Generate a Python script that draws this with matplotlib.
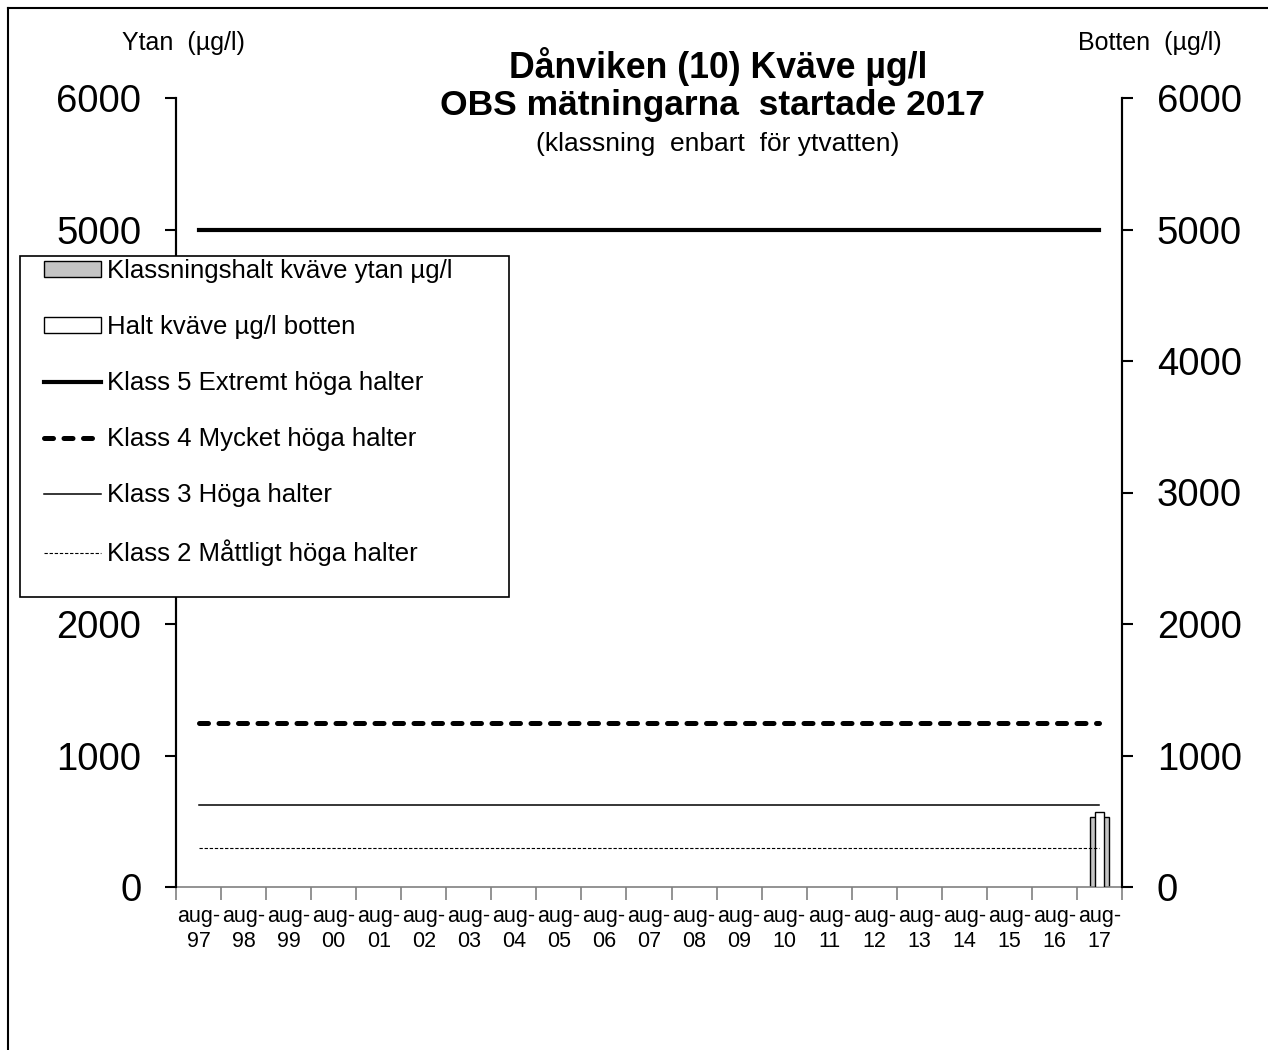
import numpy as np
import matplotlib
matplotlib.use("Agg")
import matplotlib.pyplot as plt
from matplotlib.patches import Rectangle, Patch
from matplotlib.lines import Line2D

plt.rcParams['font.family'] = ['Liberation Sans', 'DejaVu Sans']

# ---------------- data ----------------
years = ["97", "98", "99", "00", "01", "02", "03", "04", "05", "06", "07",
         "08", "09", "10", "11", "12", "13", "14", "15", "16", "17"]
categories = ["aug-\n" + y for y in years]
ytan = [np.nan, np.nan, np.nan, np.nan, np.nan, np.nan, np.nan, np.nan, np.nan, np.nan, np.nan,
        np.nan, np.nan, np.nan, np.nan, np.nan, np.nan, np.nan, np.nan, np.nan, 535]
botten = [np.nan, np.nan, np.nan, np.nan, np.nan, np.nan, np.nan, np.nan, np.nan, np.nan, np.nan,
          np.nan, np.nan, np.nan, np.nan, np.nan, np.nan, np.nan, np.nan, np.nan, 570]
class_names = ["Klass 5 Extremt höga halter", "Klass 4 Mycket höga halter",
               "Klass 3 Höga halter", "Klass 2 Måttligt höga halter"]
class_values = [5000, 1250, 625, 300]
yticks = [0, 1000, 2000, 3000, 4000, 5000, 6000]
# left labels 3000/4000 are hidden behind the legend box in the original
left_labels = ["0", "1000", "2000", "", "", "5000", "6000"]
right_labels = ["0", "1000", "2000", "3000", "4000", "5000", "6000"]

W, H = 1268, 1050
fig = plt.figure(figsize=(W / 100, H / 100), dpi=100)

def fx(px):
    return px / W

def fy(py):
    return 1 - py / H

ax = fig.add_axes([fx(176), fy(887), fx(1122) - fx(176), fy(98) - fy(887)])
x = np.arange(len(categories))

ax.bar(x, ytan, width=0.42, color="#c4c4c4", edgecolor="black", linewidth=1.0, zorder=2)
ax.bar(x, botten, width=0.22, color="white", edgecolor="black", linewidth=1.0, zorder=3)

styles = [
    dict(color="black", lw=3.0, ls="-"),
    dict(color="black", lw=3.6, ls=(0, (1.8, 2.1)), dash_capstyle="round"),
    dict(color="black", lw=1.1, ls="-"),
    dict(color="black", lw=0.8, ls=(0, (3.0, 1.6))),
]
for v, st in zip(class_values, styles):
    ax.plot(x, [v] * len(x), zorder=4, **st)

ax.set_xlim(-0.5, len(categories) - 0.5)
ax.set_ylim(0, 6000)

ax.set_xticks(np.arange(-0.5, len(categories), 1.0))
ax.set_xticklabels([])
ax.set_xticks(x, minor=True)
ax.set_xticklabels(categories, minor=True, fontsize=15.5, linespacing=1.2)
ax.tick_params(axis="x", which="major", direction="out", length=9, width=1.2, color="#808080")
ax.tick_params(axis="x", which="minor", length=0, pad=14)

ax.set_yticks(yticks)
ax.set_yticklabels(left_labels, fontsize=27.5)
ax.tick_params(axis="y", direction="out", length=8, width=1.5, pad=17)

ax2 = ax.twinx()
ax2.set_ylim(0, 6000)
ax2.set_yticks(yticks)
ax2.set_yticklabels(right_labels, fontsize=27.5)
ax2.tick_params(axis="y", direction="out", length=8, width=1.5, pad=17)

for a in (ax, ax2):
    a.spines["top"].set_visible(False)
    a.spines["left"].set_linewidth(1.5)
    a.spines["right"].set_linewidth(1.5)
    a.spines["bottom"].set_color("#808080")
    a.spines["bottom"].set_linewidth(1.2)
ax2.spines["bottom"].set_visible(False)

# texts
fig.text(fx(183), fy(43), "Ytan  (µg/l)", ha="center", va="center", fontsize=18)
fig.text(fx(1150), fy(43), "Botten  (µg/l)", ha="center", va="center", fontsize=18)
fig.text(fx(718), fy(66), "Dånviken (10) Kväve µg/l", ha="center", va="center",
         fontsize=25.7, fontweight="bold")
fig.text(fx(712), fy(106), "OBS mätningarna  startade 2017", ha="center", va="center",
         fontsize=25.5, fontweight="bold")
fig.text(fx(718), fy(144), "(klassning  enbart  för ytvatten)", ha="center", va="center",
         fontsize=19)

# legend box
fig.patches.append(Rectangle((fx(20), fy(597)), fx(509) - fx(20), fy(256) - fy(597),
                             transform=fig.transFigure, facecolor="white",
                             edgecolor="black", linewidth=1.2, zorder=5))
handles = [
    Patch(facecolor="#c4c4c4", edgecolor="black", linewidth=1.0),
    Patch(facecolor="white", edgecolor="black", linewidth=1.0),
]
labels = ["Klassningshalt kväve ytan µg/l", "Halt kväve µg/l botten"]
for name, st in zip(class_names, styles):
    handles.append(Line2D([], [], **st))
    labels.append(name)
leg = fig.legend(handles, labels, loc="upper left",
                 bbox_to_anchor=(fx(44), fy(259)), bbox_transform=fig.transFigure,
                 frameon=False, fontsize=18.5, borderpad=0, borderaxespad=0,
                 handlelength=2.2, handleheight=0.55, handletextpad=0.25,
                 labelspacing=1.25)
leg.set_zorder(6)

# outer frame (left and top edges)
fig.add_artist(Line2D([fx(8), fx(8)], [fy(8), 0], transform=fig.transFigure,
                      color="black", lw=1.5))
fig.add_artist(Line2D([fx(8), 1], [fy(8), fy(8)], transform=fig.transFigure,
                      color="black", lw=1.5))

fig.savefig("out.png", dpi=100)
